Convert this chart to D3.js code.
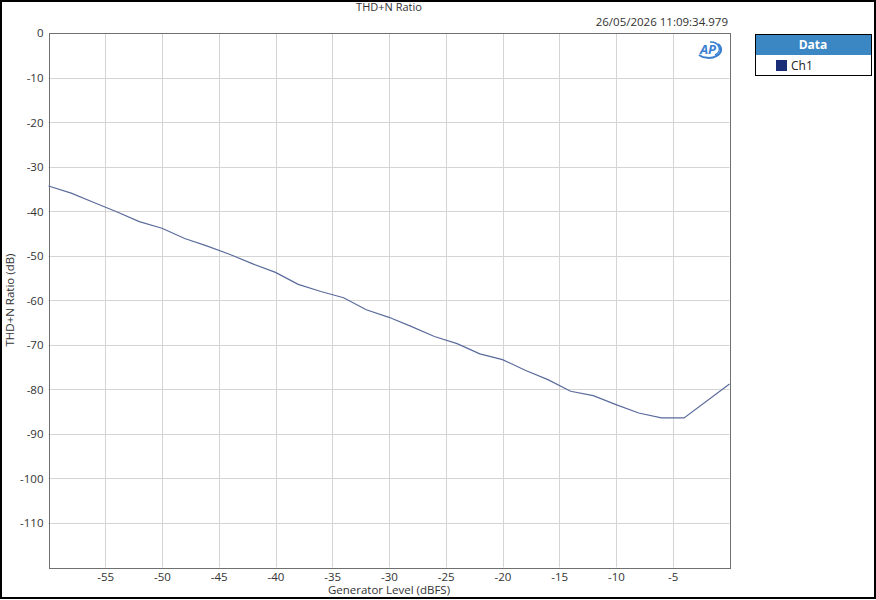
<!DOCTYPE html>
<html><head><meta charset="utf-8">
<script src="https://cdn.jsdelivr.net/npm/d3@7"></script>
<style>
html,body{margin:0;padding:0;background:#fff;}
svg{display:block;font-family:"Open Sans","Noto Sans",sans-serif;}
</style></head>
<body><svg id="c" width="876" height="600"></svg>
<script>
const title = "THD+N Ratio";
const timestamp = "26/05/2026 11:09:34.979";
const xLabel = "Generator Level (dBFS)";
const yLabel = "THD+N Ratio (dB)";
const legendTitle = "Data";
const seriesName = "Ch1";
const generatorLevel = [-60,-58,-56,-54,-52,-50,-48,-46,-44,-42,-40,-38,-36,-34,-32,-30,-28,-26,-24,-22,-20,-18,-16,-14,-12,-10,-8,-6,-4,0];
const thdnRatio = [-34.3,-35.9,-38.0,-40.1,-42.3,-43.8,-46.1,-47.8,-49.7,-51.8,-53.7,-56.4,-58.0,-59.4,-62.1,-63.8,-65.9,-68.1,-69.7,-72.0,-73.3,-75.7,-77.8,-80.4,-81.4,-83.4,-85.3,-86.4,-86.4,-78.8];
const xTicks = [-55,-50,-45,-40,-35,-30,-25,-20,-15,-10,-5];
const yTicks = [0,-10,-20,-30,-40,-50,-60,-70,-80,-90,-100,-110];

const svg = d3.select("#c");
const L = 48.5, R = 729.5, T = 33.3, B = 567.5;
const x = d3.scaleLinear().domain([-60,0]).range([L,R]);
const y = d3.scaleLinear().domain([-120,0]).range([B,T]);

// outer border
svg.append("rect").attr("x",1).attr("y",1).attr("width",874).attr("height",597)
  .attr("fill","none").attr("stroke","#000").attr("stroke-width",2);

// grid
const g = svg.append("g");
g.selectAll(".gx").data(xTicks).join("line")
  .attr("x1",d=>Math.round(x(d))+0.5).attr("x2",d=>Math.round(x(d))+0.5)
  .attr("y1",T).attr("y2",B).attr("stroke","#d4d4d4").attr("stroke-width",1);
g.selectAll(".gy").data(yTicks.filter(d=>d!==0)).join("line")
  .attr("y1",d=>Math.round(y(d))+0.5).attr("y2",d=>Math.round(y(d))+0.5)
  .attr("x1",L).attr("x2",R).attr("stroke","#d4d4d4").attr("stroke-width",1);

// axes (labels via d3 axes)
const xAxis = d3.axisBottom(x).tickValues(xTicks).tickSize(0).tickPadding(5).tickFormat(d=>d);
const yAxis = d3.axisLeft(y).tickValues(yTicks).tickSize(0).tickPadding(5).tickFormat(d=>d);
const gx = svg.append("g").attr("transform",`translate(0,${B})`).call(xAxis);
const gy = svg.append("g").attr("transform",`translate(${L},0)`).call(yAxis);
[gx,gy].forEach(a=>{a.select(".domain").remove();
  a.selectAll("text").attr("font-family","'Open Sans','Noto Sans',sans-serif").attr("font-size",11.5).attr("fill","#333");});

// plot frame
svg.append("rect").attr("x",Math.round(L)+0.5).attr("y",Math.round(T)+0.5)
  .attr("width",Math.round(R)-Math.round(L)).attr("height",Math.round(B)-Math.round(T))
  .attr("fill","none").attr("stroke","#707070").attr("stroke-width",1);

// data line
const data = generatorLevel.map((v,i)=>[v,thdnRatio[i]]);
svg.append("path").datum(data)
  .attr("d",d3.line().x(d=>x(d[0])).y(d=>y(d[1])))
  .attr("fill","none").attr("stroke","#5b6b9c").attr("stroke-width",1.2);

// texts
svg.append("text").attr("x",389).attr("y",11).attr("text-anchor","middle")
  .attr("font-size",11).attr("fill","#333").text(title);
svg.append("text").attr("x",728).attr("y",26).attr("text-anchor","end")
  .attr("font-size",11.5).attr("fill","#333").text(timestamp);
svg.append("text").attr("x",389).attr("y",594).attr("text-anchor","middle")
  .attr("font-size",11.5).attr("fill","#333").text(xLabel);
svg.append("text").attr("transform","translate(14,300) rotate(-90)").attr("text-anchor","middle")
  .attr("font-size",11.5).attr("fill","#333").text(yLabel);

// AP logo
const logo = svg.append("g").attr("transform","translate(708,50)");
logo.append("path").attr("d","M -9 5 A 12 8 0 0 0 10 -6").attr("fill","none").attr("stroke","#3a7fd0").attr("stroke-width",2);
logo.append("path").attr("d","M 2 -8 A 9 7 0 0 1 7 5").attr("fill","none").attr("stroke","#3a7fd0").attr("stroke-width",1.5);
logo.append("text").attr("x",0).attr("y",4).attr("text-anchor","middle").attr("font-size",13)
  .attr("font-weight","bold").attr("font-style","italic").attr("fill","#3a7fd0").text("AP");

// legend
const lg = svg.append("g");
lg.append("rect").attr("x",755.5).attr("y",34.5).attr("width",116).attr("height",41)
  .attr("fill","#fff").attr("stroke","#000").attr("stroke-width",1);
lg.append("rect").attr("x",756).attr("y",35).attr("width",115).attr("height",20).attr("fill","#3b87c4");
lg.append("text").attr("x",813).attr("y",49).attr("text-anchor","middle").attr("font-size",12)
  .attr("font-weight","bold").attr("fill","#fff").text(legendTitle);
lg.append("rect").attr("x",776).attr("y",60).attr("width",11).attr("height",11).attr("fill","#1a2e78");
lg.append("text").attr("x",791).attr("y",70).attr("font-size",12).attr("fill","#222").text(seriesName);
</script></body></html>
